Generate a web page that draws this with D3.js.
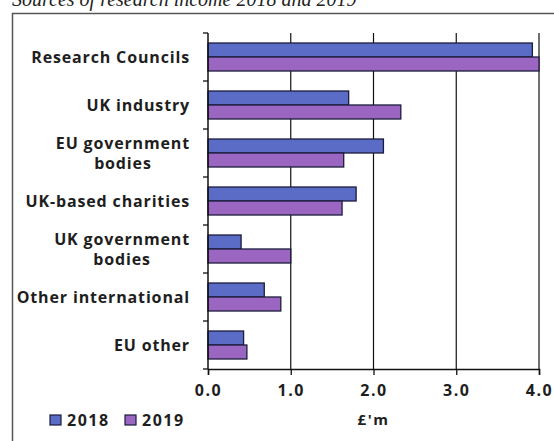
<!DOCTYPE html>
<html>
<head>
<meta charset="utf-8">
<script src="https://cdn.jsdelivr.net/npm/d3@7/dist/d3.min.js"></script>
<style>
  html, body { margin: 0; padding: 0; background: #fff; }
  svg { display: block; }
  .lbl { font-family: 'Open Sans', sans-serif; font-weight: bold; fill: #1e1e1e; }
</style>
</head>
<body>
<div id="chart"></div>
<script>
// categories, top to bottom (each entry is the lines of the label)
var categories = [
	["Research Councils"],
	["UK industry"],
	["EU government", "bodies"],
	["UK-based charities"],
	["UK government", "bodies"],
	["Other international"],
	["EU other"]
];
var years = ["2018", "2019"];
var values2018 = [3.92, 1.70, 2.12, 1.79, 0.40, 0.68, 0.43];
var values2019 = [4.00, 2.33, 1.64, 1.62, 1.00, 0.88, 0.47];
var xTicks = [0, 1, 2, 3, 4];
var colors = {"2018": "#5a6cc6", "2019": "#9a66c2"};

var width = 554, height = 441;
var svg = d3.select("#chart").append("svg")
	.attr("width", width).attr("height", height);

// title, cut by the top edge like in the scan
svg.append("text")
	.attr("x", 12).attr("y", 6)
	.style("font-family", "'Liberation Serif', serif")
	.style("font-style", "italic")
	.style("font-size", "20px")
	.attr("fill", "#222")
	.text("Sources of research income 2018 and 2019");

// outer frame
svg.append("rect")
	.attr("x", 12.5).attr("y", 13.5)
	.attr("width", 560).attr("height", 440)
	.attr("fill", "none")
	.attr("stroke", "#555").attr("stroke-width", 1.5);

var names = categories.map(function(d){ return d.join(" "); });
var x = d3.scaleLinear().domain([0, 4]).range([208, 539]);
var y = d3.scaleBand().domain(names).range([33, 369]);
var sub = d3.scaleBand().domain(years).range([0, y.bandwidth()]).paddingOuter(0.714);

// vertical gridlines
svg.append("g").selectAll("line")
	.data(xTicks.slice(1))
	.enter().append("line")
	.attr("x1", function(d){ return x(d); })
	.attr("x2", function(d){ return x(d); })
	.attr("y1", 33).attr("y2", 369)
	.attr("stroke", "#111").attr("stroke-width", 1.2);

// bars
var rows = names.map(function(n, i){
	return {name: n, "2018": values2018[i], "2019": values2019[i]};
});
years.forEach(function(yr){
	svg.append("g").selectAll("rect")
		.data(rows)
		.enter().append("rect")
		.attr("x", x(0))
		.attr("y", function(d){ return y(d.name) + sub(yr); })
		.attr("width", function(d){ return x(d[yr]) - x(0); })
		.attr("height", sub.bandwidth())
		.attr("fill", colors[yr])
		.attr("stroke", "#1c1c3c").attr("stroke-width", 1.3);
});

// x axis
var xAxis = d3.axisBottom(x).tickValues(xTicks).tickSize(6)
	.tickFormat(d3.format(".1f"));
var gx = svg.append("g").attr("transform", "translate(0,369)").call(xAxis);
gx.select(".domain").attr("stroke", "#111").attr("stroke-width", 1.5);
gx.selectAll(".tick line").attr("stroke", "#111").attr("stroke-width", 1.3);
gx.selectAll(".tick text")
	.attr("dy", null).attr("y", 27)
	.attr("class", "lbl")
	.style("font-size", "16px").style("letter-spacing", "1.5px");

// y axis: ticks at band boundaries
var bounds = names.map(function(n){ return y(n); }).concat([369]);
svg.append("line")
	.attr("x1", x(0)).attr("x2", x(0)).attr("y1", 33).attr("y2", 369)
	.attr("stroke", "#111").attr("stroke-width", 1.5);
svg.append("g").selectAll("line")
	.data(bounds)
	.enter().append("line")
	.attr("x1", x(0) - 5).attr("x2", x(0))
	.attr("y1", function(d){ return d; }).attr("y2", function(d){ return d; })
	.attr("stroke", "#111").attr("stroke-width", 1.3);

// category labels, lines centred on each other, block right aligned
var lineH = 20;
categories.forEach(function(lines, i){
	var cy = y(names[i]) + y.bandwidth() / 2;
	var g = svg.append("g");
	var t = g.selectAll("text")
		.data(lines)
		.enter().append("text")
		.attr("class", "lbl")
		.attr("y", function(d, j){ return cy + 5.5 + (j - (lines.length - 1) / 2) * lineH; })
		.attr("text-anchor", "middle")
		.style("font-size", "16px").style("letter-spacing", "0.85px")
		.text(function(d){ return d; });
	var w = d3.max(t.nodes(), function(n){ return n.getComputedTextLength(); });
	t.attr("x", 190 - w / 2);
});

// axis title
svg.append("text")
	.attr("class", "lbl")
	.attr("x", x(2)).attr("y", 425)
	.attr("text-anchor", "middle")
	.style("font-size", "15px").style("letter-spacing", "1.5px")
	.text("£'m");

// legend
var legendX = [50, 125];
var lg = svg.append("g");
lg.selectAll("rect")
	.data(years)
	.enter().append("rect")
	.attr("x", function(d, i){ return legendX[i]; })
	.attr("y", 415).attr("width", 11).attr("height", 10)
	.attr("fill", function(d){ return colors[d]; })
	.attr("stroke", "#1c1c3c").attr("stroke-width", 1.2);
lg.selectAll("text")
	.data(years)
	.enter().append("text")
	.attr("class", "lbl")
	.attr("x", function(d, i){ return legendX[i] + 17; })
	.attr("y", 426)
	.style("font-size", "16px").style("letter-spacing", "1.5px")
	.text(function(d){ return d; });
</script>
</body>
</html>
